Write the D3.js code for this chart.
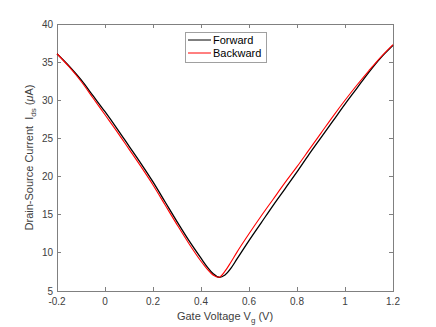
<!DOCTYPE html>
<html>
<head>
<meta charset="utf-8">
<script src="https://cdn.jsdelivr.net/npm/d3@7"></script>
<style>
  body { margin: 0; background: #fff; }
  text { font-family: "Liberation Sans", Arial, sans-serif; }
</style>
</head>
<body>
<svg></svg>
<script>
// gate voltage sweep
const vg = [-0.2, -0.15, -0.1, -0.05, 0, 0.05, 0.1, 0.15, 0.2, 0.25, 0.3, 0.35, 0.4, 0.425, 0.45, 0.475,
            0.5, 0.525, 0.55, 0.6, 0.65, 0.7, 0.75, 0.8, 0.85, 0.9, 0.95, 1.0, 1.05, 1.1, 1.15, 1.2];
const forward = [36.1, 34.5, 32.7, 30.6, 28.5, 26.3, 24.0, 21.7, 19.3, 16.7, 14.1, 11.6, 9.3, 8.2, 7.3, 6.8,
                 7.1, 8.0, 9.2, 11.6, 13.9, 16.2, 18.4, 20.6, 22.9, 25.1, 27.3, 29.5, 31.6, 33.7, 35.6, 37.2];
const backward = [36.1, 34.4, 32.5, 30.3, 28.1, 25.9, 23.6, 21.3, 18.9, 16.3, 13.7, 11.2, 8.9, 7.9, 7.1, 6.8,
                  7.6, 8.8, 10.1, 12.5, 14.8, 17.0, 19.2, 21.3, 23.5, 25.7, 27.9, 30.0, 32.0, 33.9, 35.7, 37.3];

const xTicks = [-0.2, 0, 0.2, 0.4, 0.6, 0.8, 1, 1.2];
const yTicks = [5, 10, 15, 20, 25, 30, 35, 40];

const width = 436;
const height = 327;
const pLeft = 57, pRight = 393, pTop = 24, pBottom = 291;
const axisColor = "#808080";

let svg = d3.select("svg")
    .attr("width", width)
    .attr("height", height)

const x = d3.scaleLinear().domain([-0.2, 1.2]).range([pLeft, pRight]);
const y = d3.scaleLinear().domain([5, 40]).range([pBottom, pTop]);

// box
svg.append("rect")
    .attr("x", pLeft).attr("y", pTop)
    .attr("width", pRight - pLeft).attr("height", pBottom - pTop)
    .attr("fill", "none")
    .attr("stroke", axisColor)
    .attr("stroke-width", 1)
    .attr("shape-rendering", "crispEdges");

// ticks pointing inward, on all four sides
const tickLen = 4;
xTicks.forEach(t => {
    svg.append("line").attr("x1", x(t)).attr("x2", x(t)).attr("y1", pBottom).attr("y2", pBottom - tickLen)
        .attr("stroke", axisColor).attr("shape-rendering", "crispEdges");
    svg.append("line").attr("x1", x(t)).attr("x2", x(t)).attr("y1", pTop).attr("y2", pTop + tickLen)
        .attr("stroke", axisColor).attr("shape-rendering", "crispEdges");
    svg.append("text")
        .attr("x", x(t)).attr("y", pBottom + 14)
        .attr("text-anchor", "middle")
        .attr("font-size", 10)
        .attr("fill", "#404040")
        .text(t);
});
yTicks.forEach(t => {
    svg.append("line").attr("x1", pLeft).attr("x2", pLeft + tickLen).attr("y1", y(t)).attr("y2", y(t))
        .attr("stroke", axisColor).attr("shape-rendering", "crispEdges");
    svg.append("line").attr("x1", pRight).attr("x2", pRight - tickLen).attr("y1", y(t)).attr("y2", y(t))
        .attr("stroke", axisColor).attr("shape-rendering", "crispEdges");
    svg.append("text")
        .attr("x", pLeft - 4).attr("y", y(t) + 3.5)
        .attr("text-anchor", "end")
        .attr("font-size", 10)
        .attr("fill", "#404040")
        .text(t);
});

// axis labels
const xl = svg.append("text")
    .attr("x", (pLeft + pRight) / 2).attr("y", 320)
    .attr("text-anchor", "middle")
    .attr("font-size", 11)
    .attr("fill", "#404040");
xl.append("tspan").text("Gate Voltage V");
xl.append("tspan").attr("font-size", 8).attr("dy", 3).text("g");
xl.append("tspan").attr("dy", -3).text(" (V)");

const yl = svg.append("text")
    .attr("transform", "translate(33," + ((pTop + pBottom) / 2) + ") rotate(-90)")
    .attr("text-anchor", "middle")
    .attr("font-size", 11)
    .attr("fill", "#404040")
    .attr("xml:space", "preserve");
yl.append("tspan").text("Drain-Source Current  I");
yl.append("tspan").attr("font-size", 8).attr("dy", 3).text("ds");
yl.append("tspan").attr("dy", -3).text(" (");
yl.append("tspan").attr("font-style", "italic").text("\u03bc");
yl.append("tspan").text("A)");

// curves
const line = d3.line()
    .x(d => x(d[0]))
    .y(d => y(d[1]))
    .curve(d3.curveCatmullRom.alpha(0.5));

svg.append("path")
    .datum(vg.map((v, i) => [v, forward[i]]))
    .attr("d", line)
    .attr("fill", "none")
    .attr("stroke", "#000")
    .attr("stroke-width", 1.3);

svg.append("path")
    .datum(vg.map((v, i) => [v, backward[i]]))
    .attr("d", line)
    .attr("fill", "none")
    .attr("stroke", "#ff0000")
    .attr("stroke-width", 1.1);

// legend
const legend = svg.append("g");
legend.append("rect")
    .attr("x", 185).attr("y", 32)
    .attr("width", 81).attr("height", 30)
    .attr("fill", "#fff")
    .attr("stroke", "#a0a0a0")
    .attr("shape-rendering", "crispEdges");
const names = ["Forward", "Backward"];
const colors = ["#000", "#ff0000"];
names.forEach((n, i) => {
    const ly = 40 + i * 13;
    legend.append("line")
        .attr("x1", 188).attr("x2", 211).attr("y1", ly).attr("y2", ly)
        .attr("stroke", colors[i]).attr("stroke-width", 1);
    legend.append("text")
        .attr("x", 213).attr("y", ly + 4)
        .attr("font-size", 11)
        .attr("fill", "#000")
        .text(n);
});
</script>
</body>
</html>
